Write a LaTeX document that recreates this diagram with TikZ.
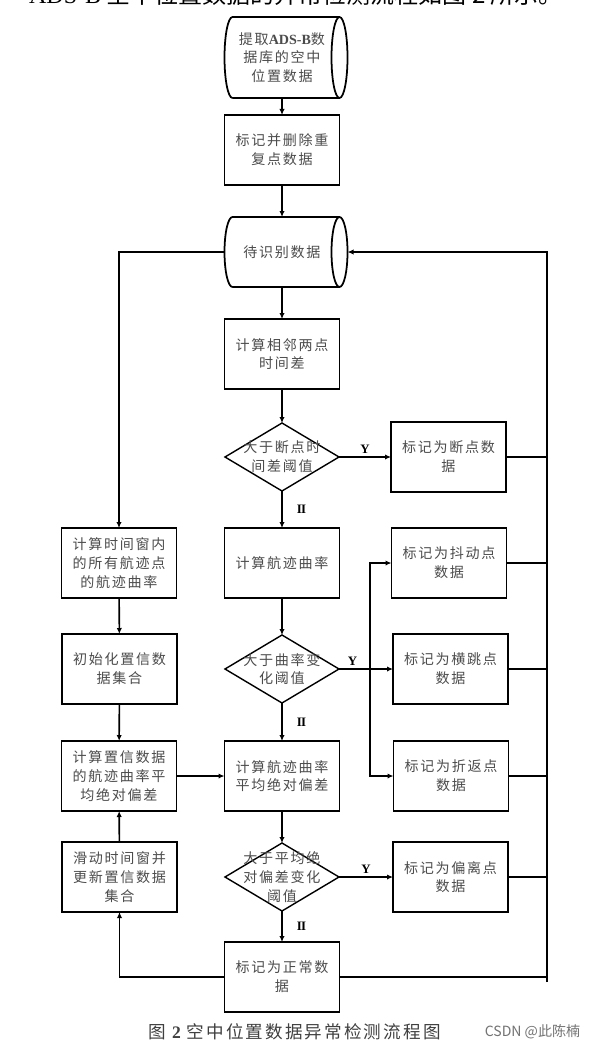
\documentclass[tikz,border=0pt]{standalone}
\usepackage{fontspec}
\setmainfont{Liberation Serif}
\newfontfamily\cjk[LetterSpace=12]{Noto Sans CJK SC}
\newfontfamily\cjkplain{Noto Sans CJK SC}
\usetikzlibrary{arrows.meta, positioning, shapes.geometric}

\begin{document}
\begin{tikzpicture}[
  node distance=1.1cm,
  txt/.style={font=\cjk\fontsize{12}{16}\selectfont, text=black!70, align=center},
  box/.style={txt, draw, line width=1.6pt, minimum width=3.45cm, minimum height=2.1cm, inner sep=2pt, outer sep=0pt},
  drum/.style={txt, minimum width=3.45cm, minimum height=2.1cm, inner sep=0pt, outer sep=0pt},
  decision/.style={diamond, draw, line width=1.2pt, minimum width=3.42cm, minimum height=2.04cm, inner sep=0pt, outer sep=0pt},
  arrow/.style={-{Latex[length=1.8mm, width=1.6mm]}, line width=1.35pt},
  link/.style={line width=1.2pt},
  yeslab/.style={above, inner sep=2pt, font=\bfseries\fontsize{11}{13}\selectfont},
  nolab/.style={right=0.42cm, inner sep=0pt, font=\bfseries\fontsize{11}{13}\selectfont},
  every label/.style={txt}
]
  \useasboundingbox (0,0) rectangle (17.91,-31.41);
  \fill[white] (0,0) rectangle (17.91,-31.41);

  % main column
  \node[drum, minimum height=2.43cm] (src) at (8.46,-1.725) {提取{\rmfamily\bfseries ADS-B}数\\据库的空中\\位置数据};
  \node[box, below=0.51cm of src] (dedup) {标记并删除重\\复点数据};
  \node[drum, below=0.96cm of dedup] (wait) {待识别数据};
  \node[box, below=0.96cm of wait] (gap) {计算相邻两点\\时间差};
  \node[decision, below=1.02cm of gap, label={center:{大于断点时\\间差阈值}}] (brkq) {};
  \node[box, below=1.11cm of brkq] (curv) {计算航迹曲率};
  \node[decision, below=1.11cm of curv, label={center:{大于曲率变\\化阈值}}] (curvq) {};
  \node[box, below=1.14cm of curvq] (mad) {计算航迹曲率\\平均绝对偏差};
  \node[decision, below=0.96cm of mad, label={center:{大于平均绝\\对偏差变化\\阈值}}] (madq) {};
  \node[box, below=0.93cm of madq] (normal) {标记为正常数\\据};

  % marked points
  \node[box, right=1.56cm of brkq] (brk) {标记为断点数\\据};
  \node[box, right=1.56cm of curv] (jitter) {标记为抖动点\\数据};
  \node[box, right=1.62cm of curvq] (jump) {标记为横跳点\\数据};
  \node[box, right=1.62cm of mad] (turn) {标记为折返点\\数据};
  \node[box, right=1.62cm of madq] (dev) {标记为偏离点\\数据};

  % time window
  \node[box, left=1.44cm of curv] (window) {计算时间窗内\\的所有航迹点\\的航迹曲率};
  \node[box, left=1.44cm of curvq] (init) {初始化置信数\\据集合};
  \node[box, left=1.44cm of mad] (conf) {计算置信数据\\的航迹曲率平\\均绝对偏差};
  \node[box, left=1.44cm of madq] (slide) {滑动时间窗并\\更新置信数据\\集合};

  \coordinate (bus) at (16.41,0);
  \coordinate (fork) at (11.1,0);

  % drum outlines
  \foreach \n/\h in {src/1.215, wait/1.05}
    \draw[line width=1.5pt] ([xshift=0.24cm]\n.south west) arc[start angle=270, end angle=90, x radius=0.24cm, y radius=\h cm] -- (\n.north east)
      (\n.south east) -- ([xshift=0.24cm]\n.south west)
      (\n.east) ellipse [x radius=0.24cm, y radius=\h cm];

  \draw[arrow] (src) -- (dedup);
  \draw[arrow] (dedup) -- (wait);
  \draw[arrow] (wait) -- (gap);
  \draw[arrow] (gap) -- (brkq);
  \draw[arrow] (brkq) -- node[yeslab] {Y} (brk);
  \draw[arrow] (brkq) -- node[nolab] {I\kern-0.6ptI} (curv);
  \draw[arrow] (curv) -- (curvq);
  \draw[arrow] (curvq) -- node[yeslab, pos=0.25] {Y} (jump);
  \draw[arrow] (curvq.east -| fork) |- (jitter);
  \draw[arrow] (curvq.east -| fork) |- (turn);
  \draw[arrow] (curvq) -- node[nolab] {I\kern-0.6ptI} (mad);
  \draw[arrow] (mad) -- (madq);
  \draw[arrow] (madq) -- node[yeslab] {Y} (dev);
  \draw[arrow] (madq) -- node[nolab] {I\kern-0.6ptI} (normal);

  \foreach \n in {brk, jitter, jump, turn, dev, normal}
    \draw[link] (\n.east) -- (\n.east -| bus);
  \draw[arrow] ([yshift=-0.15cm]normal.east -| bus) |- ([xshift=0.24cm]wait.east);

  \draw[arrow] (wait.west) -| (window);
  \draw[arrow] (window) -- (init);
  \draw[arrow] (init) -- (conf);
  \draw[arrow] (conf) -- (mad);
  \draw[arrow] (slide) -- (conf);
  \draw[arrow] (normal.west) -| (slide);

  \node[font=\cjk\fontsize{15}{18}\selectfont, text=black!75] (caption) at (8.835,-30.96) {图 {\rmfamily\bfseries 2} 空中位置数据异常检测流程图};
  \node[font=\cjkplain\fontsize{12}{14}\selectfont, text=black!55] (mark) at (15.975,-30.96) {CSDN @此陈楠};
  \node[font=\cjkplain\fontsize{20.5}{24}\selectfont] (intro) at (8.88,0.17) {{\rmfamily ADS-B} 空中位置数据的异常检测流程如图 2 所示。};
\end{tikzpicture}
\end{document}
